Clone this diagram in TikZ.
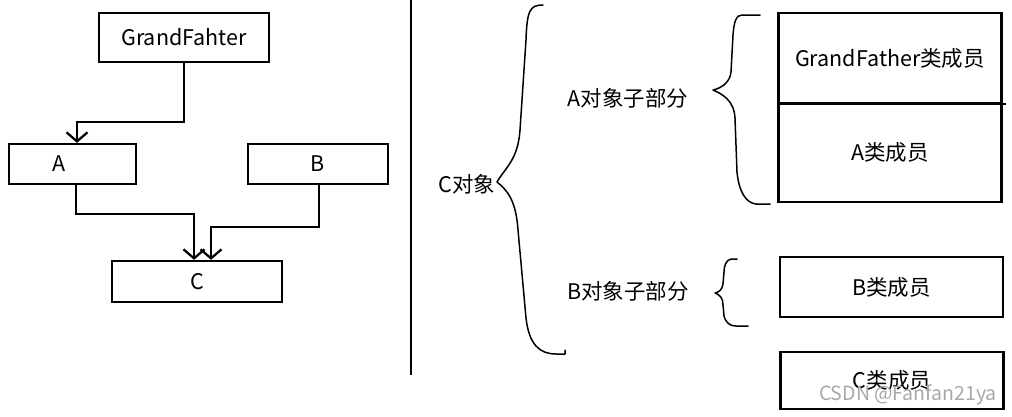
\documentclass[tikz,border=0pt]{standalone}
\usepackage{fontspec}
\setmainfont{Noto Sans CJK SC}
\usepackage{tikz}
\usepackage{xcolor}
\usetikzlibrary{arrows.meta,positioning,calc}
\definecolor{ink}{HTML}{000000}
\definecolor{wmgray}{HTML}{A8A8A8}
\tikzset{
  classbox/.style={draw=ink,fill=white,line width=2.3pt,
                   inner sep=0pt,align=center,font=\fontsize{21.5}{24}\selectfont},
  membox/.style={draw=ink,fill=white,line width=2.4pt,minimum width=223pt,
                 inner sep=0pt,align=center,font=\fontsize{21.5}{24}\selectfont},
  tag/.style={inner sep=0pt,font=\fontsize{21.5}{24}\selectfont},
  flowarr/.style={-{Straight Barb[length=9pt,width=21pt,line width=2.3pt]},line width=2.3pt},
  bracearc/.style={line width=1.5pt,line cap=round,line join=round}
}
\begin{document}
\begin{tikzpicture}[x=1pt,y=-1pt]
  \useasboundingbox (0,0) rectangle (1012,416);
  % class hierarchy
  \node[classbox,minimum width=170pt,minimum height=49pt] (gf) at (184,37.5) {GrandFahter};
  \node[classbox,minimum width=127pt,minimum height=40pt,
        label={[tag,xshift=-13.5pt]center:A}] (a) at (72.5,164) {};
  \node[classbox,minimum width=140pt,minimum height=40pt] (b) at (318,164) {B};
  \node[classbox,minimum width=170pt,minimum height=41pt] (c) at (197,281.5) {C};
  \draw[flowarr] (gf.south) -- ++(0,59) -| ([xshift=4.5pt]a.north);
  \draw[flowarr] ([xshift=3.5pt]a.south) -- ++(0,29) -| ([xshift=-3pt]c.north);
  \draw[flowarr] ([xshift=1pt]b.south) -- ++(0,42) -| ([xshift=14pt]c.north);
  % divider
  \coordinate (dtop) at (411,0);
  \coordinate (dbot) at (411,375);
  \draw[line width=2.2pt] (dtop) -- (dbot);
  % object layout
  \node[tag] (cobj) at (467,184) {C对象};
  \node[tag] (asub) at (628,98) {A对象子部分};
  \node[tag] (bsub) at (628,291) {B对象子部分};
  \draw[bracearc] (543,5) .. controls (530,5) and (527,10) .. (526,40)
    -- (520,130) .. controls (518,160) and (505,168) .. (497,182)
    .. controls (507,190) and (516,200) .. (518,230)
    -- (526,318) .. controls (529,345) and (540,354) .. (556,354) -- (565,354) -- (565,350);
  \node[membox,minimum height=90pt] (gfmem) at (890,58) {GrandFather类成员};
  \node[membox,minimum height=99pt] (amem) at (890,152.5) {A类成员};
  \draw[line width=2.2pt] (gfmem.south west) -- ([xshift=3pt]gfmem.south east);
  \draw[bracearc] (760,15) -- (742,15) .. controls (736,15) and (734,22) .. (733,35)
    -- (731,72) .. controls (730,82) and (722,88) .. (713,90)
    .. controls (722,94) and (734,100) .. (735,118)
    -- (737,172) .. controls (739,192) and (746,203) .. (756,204) -- (770,204);
  \node[membox,minimum height=60pt] (bmem) at (891.5,287) {B类成员};
  \draw[bracearc] (737,259) -- (731,259) .. controls (726,260) and (724,266) .. (724,272)
    -- (723,284) .. controls (722,290) and (719,292) .. (715,293)
    .. controls (720,295) and (723,298) .. (723,305)
    -- (724,316) .. controls (726,323) and (730,326) .. (736,326) -- (748,326);
  \node[membox,minimum height=57pt] (cmem) at (892,380.5) {C类成员};
  \node[font=\fontsize{19.5}{22}\selectfont,text=wmgray,inner sep=0pt] (wm) at (908,395) {CSDN @Fanfan21ya};
\end{tikzpicture}
\end{document}
